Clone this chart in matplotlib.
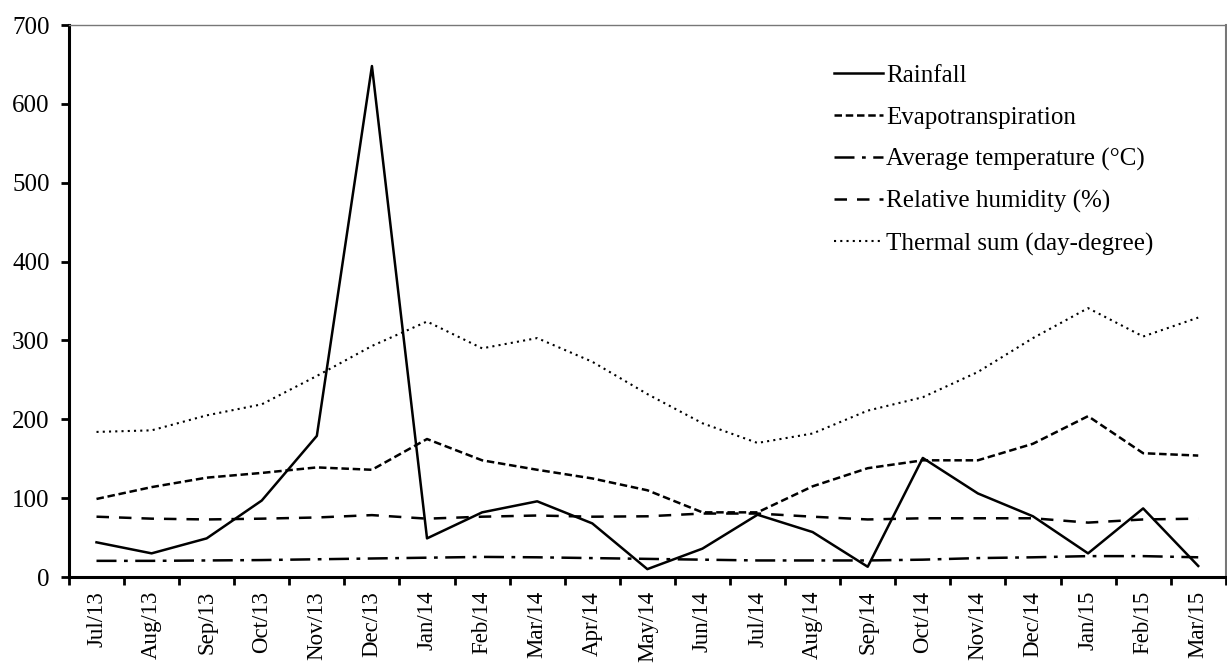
import matplotlib.pyplot as plt

# monthly climate data, Jul/13 - Mar/15
months = ['Jul/13', 'Aug/13', 'Sep/13', 'Oct/13', 'Nov/13', 'Dec/13',
          'Jan/14', 'Feb/14', 'Mar/14', 'Apr/14', 'May/14', 'Jun/14',
          'Jul/14', 'Aug/14', 'Sep/14', 'Oct/14', 'Nov/14', 'Dec/14',
          'Jan/15', 'Feb/15', 'Mar/15']

rainfall = [44, 30, 49, 97, 179, 648, 49, 82, 96, 68, 10, 36,
            79, 57, 13, 151, 106, 77, 30, 87, 14]
evapo = [99, 114, 126, 132, 139, 136, 175, 148, 136, 125, 110, 82,
         82, 115, 138, 148, 148, 169, 204, 157, 154]
avg_temp = [20.5, 20.5, 21, 21.5, 22.5, 23.5, 24.5, 25.5, 25, 24, 23, 22,
            21, 21, 21, 22, 24, 25, 26.5, 26.5, 25]
rel_hum = [76.5, 74, 73, 74, 75.5, 78.5, 74, 76.5, 78, 76.5, 77, 80.5,
           80.5, 76.5, 73, 74.5, 74.5, 74.5, 69, 73, 74]
thermal = [184, 186, 205, 219, 255, 293, 324, 290, 303, 273, 232, 195,
           170, 182, 211, 228, 260, 303, 341, 305, 329]

plt.rcParams['font.family'] = ['Liberation Serif', 'DejaVu Serif']
plt.rcParams['font.size'] = 18

fig = plt.figure(figsize=(12.27, 6.64), dpi=100)
ax = fig.add_axes([0.0562, 0.131, 0.9428, 0.8313])

x = list(range(len(months)))
ax.plot(x, rainfall, color='black', lw=1.8, label='Rainfall')
ax.plot(x, evapo, color='black', lw=1.8, dashes=(3, 1.5), label='Evapotranspiration')
ax.plot(x, avg_temp, color='black', lw=1.8, dashes=(8, 3, 1.5, 3), label='Average temperature (°C)')
ax.plot(x, rel_hum, color='black', lw=1.8, dashes=(5, 4), label='Relative humidity (%)')
ax.plot(x, thermal, color='black', lw=1.5, dashes=(1, 2), label='Thermal sum (day-degree)')

ax.set_xlim(-0.5, len(months) - 0.5)
ax.set_ylim(0, 700)
ax.set_yticks(range(0, 701, 100))

# tick marks between months, labels at month centres
ax.set_xticks([i - 0.5 for i in range(len(months) + 1)])
ax.set_xticklabels([])
ax.set_xticks(x, minor=True)
ax.set_xticklabels(months, minor=True, rotation=90, fontsize=16.5)
ax.tick_params(axis='x', which='minor', length=0, pad=10)
ax.tick_params(axis='both', which='major', direction='out', length=6, width=2)
ax.tick_params(axis='y', pad=8)

ax.spines['left'].set_linewidth(2.2)
ax.spines['bottom'].set_linewidth(2.2)
ax.spines['top'].set_linewidth(1)
ax.spines['top'].set_color('#777777')
ax.spines['right'].set_linewidth(1.5)
ax.spines['right'].set_color('#777777')

ax.legend(loc='upper left', bbox_to_anchor=(0.642, 0.9696), frameon=False,
          handlelength=1.95, handletextpad=0.12, labelspacing=0.77, fontsize=18)

fig.savefig('out.png', dpi=100)
